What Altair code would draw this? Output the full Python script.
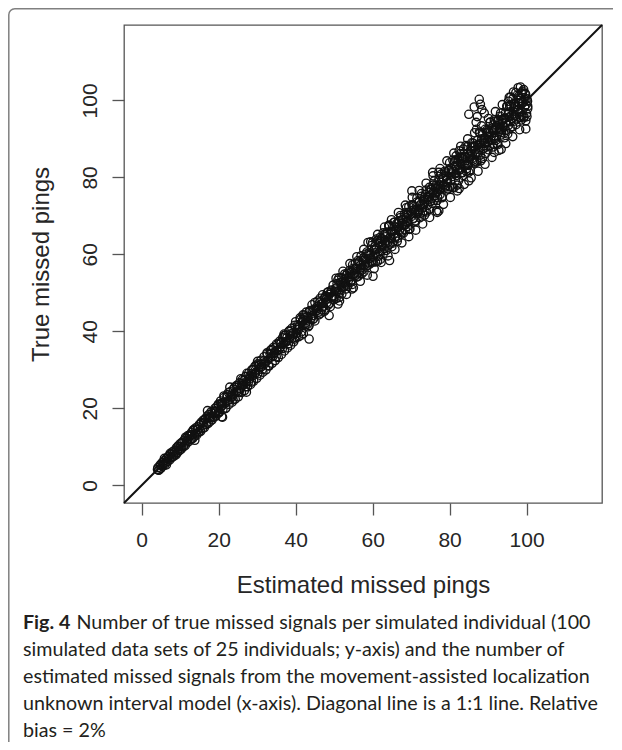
import altair as alt
import pandas as pd

# ---- data: (estimated missed pings, true missed pings) ----
seg_4_20 = [
    (4.2, 4.6), (4.5, 4.0), (4.8, 5.3), (5.0, 4.4), (5.3, 5.9), (5.5, 5.0), (5.8, 6.4), (6.0, 5.3), (6.3, 6.0), (6.5, 7.1),
    (6.8, 6.2), (7.0, 7.6), (7.3, 6.6), (7.5, 8.1), (7.8, 7.2), (8.0, 8.7), (8.3, 7.5), (8.5, 9.0), (8.8, 8.1), (9.0, 9.7),
    (9.3, 8.5), (9.5, 10.1), (9.8, 9.0), (10.0, 10.8), (10.3, 9.4), (10.5, 11.2), (10.8, 10.0), (11.0, 11.7), (11.3, 10.3), (11.5, 12.2),
    (11.8, 11.0), (12.0, 12.9), (12.3, 11.4), (12.5, 13.1), (12.8, 11.9), (13.0, 13.8), (13.3, 12.2), (13.5, 14.3), (13.8, 12.8), (14.0, 14.9),
    (14.3, 13.1), (14.5, 15.2), (14.8, 13.9), (15.0, 15.8), (15.3, 14.0), (15.5, 16.4), (15.8, 14.7), (16.0, 16.9), (16.3, 15.0), (16.5, 17.2),
    (16.8, 15.8), (17.0, 18.0), (17.3, 16.1), (17.5, 18.4), (17.8, 16.6), (18.0, 19.1), (18.3, 17.0), (18.5, 19.3), (18.8, 17.7), (19.0, 20.0),
    (19.3, 18.0), (19.5, 20.4), (19.8, 18.7), (20.0, 21.1),
    (5.6, 5.6), (7.1, 7.0), (8.6, 8.5), (9.6, 9.5), (10.2, 10.1), (11.6, 11.5), (13.1, 13.2), (14.6, 14.5), (16.1, 16.2), (17.6, 17.5),
    (19.1, 19.0), (17.1, 19.4), (20.8, 17.8), (13.8, 11.7), (4.1, 4.1),
    (4.4, 3.9), (4.9, 5.2), (5.4, 5.3), (5.9, 7.0), (6.4, 5.3), (6.9, 7.4), (7.4, 8.3), (7.9, 7.5), (8.4, 8.4), (8.9, 7.9),
    (9.4, 10.2), (9.9, 9.7), (10.4, 10.9), (10.9, 10.2), (11.4, 12.5), (11.9, 11.8), (12.4, 12.8), (12.9, 12.1), (13.4, 14.4), (13.9, 13.4),
    (14.4, 14.5), (14.9, 13.8), (15.4, 16.1), (15.9, 15.6), (16.4, 17.2), (16.9, 16.2), (17.4, 17.8), (17.9, 17.7), (18.4, 17.6), (18.9, 19.2),
    (19.4, 19.3), (19.9, 21.0),
]

seg_20_40 = [
    (20.3, 19.2), (20.5, 21.9), (20.8, 20.6), (21.1, 19.7), (21.4, 22.8), (21.6, 21.3), (21.9, 20.1), (22.2, 23.5), (22.4, 22.0), (22.7, 21.0),
    (23.0, 24.3), (23.2, 22.9), (23.5, 21.6), (23.8, 25.0), (24.0, 23.7), (24.3, 22.4), (24.6, 25.9), (24.8, 24.5), (25.1, 23.0), (25.4, 26.6),
    (25.6, 25.2), (25.9, 24.1), (26.2, 27.5), (26.4, 26.0), (26.7, 24.6), (27.0, 28.3), (27.2, 26.9), (27.5, 25.6), (27.8, 29.1), (28.0, 27.7),
    (28.3, 26.2), (28.6, 30.0), (28.8, 28.4), (29.1, 27.1), (29.4, 30.9), (29.6, 29.3), (29.9, 27.8), (30.2, 31.6), (30.4, 30.1), (30.7, 28.6),
    (31.0, 32.5), (31.2, 30.9), (31.5, 29.4), (31.8, 33.4), (32.0, 31.6), (32.3, 30.0), (32.6, 34.1), (32.8, 32.5), (33.1, 31.0), (33.4, 35.0),
    (33.6, 33.3), (33.9, 31.7), (34.2, 35.8), (34.4, 34.2), (34.7, 32.4), (35.0, 36.7), (35.2, 35.0), (35.5, 33.2), (35.8, 37.4), (36.0, 35.9),
    (36.3, 34.0), (36.6, 38.3), (36.8, 36.6), (37.1, 34.9), (37.4, 39.0), (37.6, 37.3), (37.9, 35.7), (38.2, 40.0), (38.4, 38.2), (38.7, 36.4),
    (39.0, 40.8), (39.2, 39.0), (39.5, 37.3), (39.8, 41.6),
    (21.0, 21.5), (23.6, 23.1), (26.0, 26.4), (28.5, 28.9), (31.1, 31.4), (33.7, 34.3), (36.2, 36.9), (38.6, 39.3),
    (37.0, 39.3), (22.9, 25.5), (21.0, 17.7), (30.1, 32.2), (27.2, 24.2),
    (20.15, 18.9), (20.55, 21.1), (20.95, 20.8), (21.35, 23.2), (21.75, 19.9), (22.15, 23.0), (22.55, 24.1), (22.95, 22.3), (23.35, 23.4), (23.75, 22.2),
    (24.15, 25.5), (24.55, 24.2), (24.95, 25.9), (25.35, 24.3), (25.75, 27.7), (26.15, 26.1), (26.55, 27.2), (26.95, 25.6), (27.35, 29.1), (27.75, 26.9),
    (28.15, 28.4), (28.55, 26.8), (28.95, 30.1), (29.35, 28.9), (29.75, 31.2), (30.15, 29.0), (30.55, 31.3), (30.95, 30.7),
    (31.35, 30.1), (31.75, 32.3), (32.15, 32.0), (32.55, 34.4), (32.95, 31.1), (33.35, 34.2), (33.75, 35.3), (34.15, 33.5), (34.55, 34.6), (34.95, 33.4),
    (35.35, 36.7), (35.75, 35.4), (36.15, 37.1), (36.55, 35.5), (36.95, 38.9), (37.35, 37.3), (37.75, 38.4), (38.15, 36.8), (38.55, 40.3), (38.95, 38.1),
    (39.35, 39.6), (39.75, 38.0),
]

seg_40_60 = [
    (40.00, 42.5), (40.25, 39.5), (40.50, 41.7), (40.75, 38.6), (41.00, 41.4), (41.25, 43.1), (41.50, 39.9), (41.75, 42.6), (42.00, 39.4), (42.25, 43.7),
    (42.50, 42.1), (42.75, 45.0), (43.00, 41.8), (43.25, 43.4), (43.50, 41.5), (43.75, 45.4), (44.00, 43.3), (44.25, 46.9), (44.50, 43.1), (44.75, 45.7),
    (45.00, 42.7), (45.25, 45.8), (45.50, 45.4), (45.75, 47.9), (46.00, 45.0), (46.25, 47.6), (46.50, 44.7), (46.75, 47.1), (47.00, 49.5), (47.25, 46.5),
    (47.50, 48.7), (47.75, 45.6), (48.00, 48.4), (48.25, 50.1), (48.50, 46.9), (48.75, 49.6), (49.00, 46.4), (49.25, 50.7), (49.50, 49.1), (49.75, 52.0),
    (50.00, 48.8), (50.25, 50.4), (50.50, 48.5), (50.75, 52.4), (51.00, 50.3), (51.25, 53.9), (51.50, 50.1), (51.75, 52.7), (52.00, 49.7), (52.25, 52.8),
    (52.50, 52.4), (52.75, 54.9), (53.00, 52.0), (53.25, 54.6), (53.50, 51.7), (53.75, 54.1), (54.00, 55.8), (54.25, 52.7), (54.50, 55.3), (54.75, 52.2),
    (55.00, 56.4), (55.25, 54.9), (55.50, 57.7), (55.75, 54.6), (56.00, 56.1), (56.25, 54.3), (56.50, 58.1), (56.75, 56.1), (57.00, 59.6), (57.25, 55.9),
    (57.50, 58.4), (57.75, 55.5), (58.00, 58.5), (58.25, 58.2), (58.50, 60.6), (58.75, 57.8), (59.00, 60.3), (59.25, 57.5), (59.50, 59.8), (59.75, 62.3),
    (40.6, 40.9), (41.9, 41.6), (43.1, 43.9), (44.4, 44.1), (45.6, 46.5), (46.9, 46.3), (48.1, 48.9), (49.4, 48.8), (50.6, 51.3), (51.9, 51.4),
    (53.1, 53.6), (54.4, 54.2), (55.6, 56.3), (56.9, 56.5), (58.1, 58.9), (59.4, 59.0),
    (41.9, 44.3), (43.5, 38.0), (54.6, 51.0), (48.7, 44.1), (51.0, 47.1), (58.8, 63.1),
    (40.10, 38.4), (40.45, 41.2), (40.80, 40.5), (41.15, 43.5), (41.50, 39.0), (41.85, 42.9), (42.20, 44.2), (42.55, 41.7), (42.90, 42.9), (43.25, 41.2),
    (43.60, 45.3), (43.95, 43.5), (44.30, 45.5), (44.65, 43.3), (45.00, 47.5), (45.35, 45.3), (45.70, 46.5), (46.05, 44.3), (46.40, 48.6), (46.75, 45.6),
    (47.10, 47.4), (47.45, 45.2), (47.80, 49.2), (48.15, 47.5), (48.50, 50.3), (48.85, 47.3), (49.20, 50.1), (49.55, 49.2),
    (49.90, 48.2), (50.25, 51.0), (50.60, 50.3), (50.95, 53.3), (51.30, 48.8), (51.65, 52.7), (52.00, 54.0), (52.35, 51.5), (52.70, 52.7), (53.05, 51.0),
    (53.40, 55.1), (53.75, 53.3), (54.10, 55.3), (54.45, 53.1), (54.80, 57.3), (55.15, 55.1), (55.50, 56.3), (55.85, 54.1), (56.20, 58.4), (56.55, 55.4),
    (56.90, 57.2), (57.25, 55.0), (57.60, 59.0), (57.95, 57.3), (58.30, 60.1), (58.65, 57.1), (59.00, 59.9), (59.35, 59.0), (59.70, 58.0),
    (50.5, 53.8), (52.3, 55.6), (54.1, 57.6), (55.9, 59.4), (57.7, 61.3), (59.5, 63.3),
    (51.4, 47.9), (53.2, 49.6), (55.0, 51.3), (56.8, 53.0), (58.6, 54.6),
]

seg_60_80 = [
    (60.00, 63.1), (60.25, 59.3), (60.50, 62.0), (60.75, 58.0), (61.00, 61.5), (61.25, 63.6), (61.50, 59.5), (61.75, 62.8), (62.00, 58.7), (62.25, 64.1),
    (62.50, 62.0), (62.75, 65.6), (63.00, 61.5), (63.25, 63.5), (63.50, 61.0), (63.75, 65.8), (64.00, 63.2), (64.25, 67.6), (64.50, 62.7), (64.75, 66.0),
    (65.00, 62.0), (65.25, 65.9), (65.50, 65.3), (65.75, 68.4), (66.00, 64.7), (66.25, 68.0), (66.50, 64.2), (66.75, 67.1), (67.00, 66.5), (67.25, 70.1),
    (67.50, 66.0), (67.75, 68.0), (68.00, 65.5), (68.25, 70.3), (68.50, 67.7), (68.75, 72.1), (69.00, 67.2), (69.25, 70.5), (69.50, 66.5), (69.75, 70.4),
    (70.00, 69.8), (70.25, 72.9), (70.50, 69.2), (70.75, 72.5), (71.00, 68.7), (71.25, 71.6), (71.50, 74.6), (71.75, 70.8), (72.00, 73.5), (72.25, 69.5),
    (72.50, 73.0), (72.75, 75.1), (73.00, 71.0), (73.25, 74.3), (73.50, 70.2), (73.75, 75.6), (74.00, 71.0), (74.25, 75.0), (74.50, 74.3), (74.75, 77.4),
    (75.00, 73.7), (75.25, 77.0), (75.50, 73.2), (75.75, 76.1), (76.00, 79.1), (76.25, 75.3), (76.50, 78.0), (76.75, 74.0), (77.00, 77.5), (77.25, 79.6),
    (77.50, 75.5), (77.75, 78.8), (78.00, 74.7), (78.25, 80.1), (78.50, 78.0), (78.75, 81.6), (79.00, 77.5), (79.25, 79.5), (79.50, 77.0), (79.75, 81.8),
    (60.6, 61.2), (62.0, 63.4), (63.4, 64.6), (64.9, 64.1), (66.3, 66.9), (67.7, 68.9), (69.1, 68.3), (70.6, 71.5), (72.0, 71.6), (73.4, 73.1),
    (74.9, 76.1), (76.3, 77.0), (77.7, 77.2), (79.1, 80.3), (61.8, 60.6), (65.6, 67.3), (68.9, 70.9), (72.9, 72.0), (76.9, 76.4), (79.4, 78.6),
    (70.2, 76.5), (75.6, 81.3), (77.2, 81.3), (76.8, 70.9), (77.2, 71.3), (64.4, 58.4), (60.1, 54.3), (64.2, 67.4),
    (60.1, 58.0), (60.4, 61.2), (60.7, 60.4), (61.0, 64.0), (61.3, 58.2), (61.6, 62.9), (61.9, 64.4), (62.2, 61.0), (62.5, 62.5), (62.8, 60.2),
    (63.1, 65.2), (63.4, 62.7), (63.7, 65.3), (64.0, 62.2), (64.3, 67.4), (64.6, 64.4), (64.9, 65.9), (65.2, 62.9), (65.5, 68.3), (65.8, 64.3),
    (66.1, 66.4), (66.4, 63.4), (66.7, 68.5), (67.0, 66.2), (67.3, 69.6), (67.6, 65.6), (67.9, 69.1), (68.2, 67.7),
    (68.5, 66.4), (68.8, 69.6), (69.1, 68.8), (69.4, 72.4), (69.7, 66.6), (70.0, 71.3), (70.3, 72.8), (70.6, 69.4), (70.9, 70.9), (71.2, 68.6),
    (71.5, 73.6), (71.8, 71.1), (72.1, 73.7), (72.4, 70.6), (72.7, 75.8), (73.0, 72.8), (73.3, 74.3), (73.6, 71.3), (73.9, 76.7), (74.2, 72.7),
    (74.5, 74.8), (74.8, 71.8), (75.1, 76.9), (75.4, 74.6), (75.7, 78.0), (76.0, 74.0), (76.3, 77.5), (76.6, 76.1),
    (76.9, 74.8), (77.2, 78.0), (77.5, 77.2), (77.8, 80.8), (78.1, 75.0), (78.4, 79.7), (78.7, 81.2), (79.0, 77.8), (79.3, 79.3), (79.6, 77.0),
    (79.9, 82.0),
    (61.3, 65.2), (63.1, 67.1), (64.9, 69.0), (66.7, 70.9), (68.5, 72.8), (70.3, 74.8), (72.1, 76.6), (73.9, 78.5), (75.7, 80.4), (77.5, 82.3),
    (79.3, 84.3),
    (60.4, 56.3), (62.2, 57.9), (64.0, 59.6), (65.8, 61.3), (67.6, 63.0), (69.4, 64.6), (71.2, 66.3), (73.0, 67.9), (74.8, 69.6), (76.6, 71.3),
    (78.4, 73.0),
]

seg_80_100 = [
    (80.00, 83.8), (80.25, 79.1), (80.50, 82.3), (80.75, 77.4), (81.00, 81.6), (81.25, 84.1), (81.50, 79.1), (81.75, 83.0), (82.00, 78.0), (82.25, 84.5),
    (82.50, 81.9), (82.75, 86.2), (83.00, 81.2), (83.25, 83.5), (83.50, 80.5), (83.75, 86.1), (84.00, 83.0), (84.25, 88.3), (84.50, 82.3), (84.75, 86.3),
    (85.00, 81.4), (85.25, 86.0), (85.50, 85.3), (85.75, 89.0), (86.00, 84.4), (86.25, 88.2), (86.50, 83.7), (86.75, 87.2), (87.00, 84.0), (87.25, 89.7),
    (87.50, 86.5), (87.75, 91.8), (88.00, 85.8), (88.25, 89.6), (88.50, 84.9), (88.75, 89.5), (89.00, 88.8), (89.25, 92.5), (89.50, 87.9), (89.75, 91.7),
    (90.00, 87.2), (90.25, 90.7), (90.50, 94.3), (90.75, 89.6), (91.00, 92.8), (91.25, 87.9), (91.50, 92.1), (91.75, 94.6), (92.00, 89.6), (92.25, 93.5),
    (92.50, 88.5), (92.75, 95.0), (93.00, 92.4), (93.25, 96.7), (93.50, 91.7), (93.75, 94.0), (94.00, 95.2), (94.25, 90.3), (94.50, 96.7), (94.75, 94.2),
    (95.00, 98.4), (95.25, 93.5), (95.50, 95.7), (95.75, 92.8), (96.00, 98.5), (96.25, 95.3), (96.50, 100.5), (96.75, 94.6), (97.00, 98.4), (97.25, 93.7),
    (97.50, 98.3), (97.75, 97.6), (98.00, 101.2), (98.25, 96.7), (98.50, 100.5), (98.75, 96.0), (99.00, 99.4), (99.25, 102.8), (99.50, 98.3), (99.75, 101.6),
    (100.00, 96.6), (100.25, 99.8),
    (97.8, 103.3), (98.4, 103.5), (99.0, 102.4), (97.2, 102.0), (98.9, 101.8), (99.6, 100.2), (100.3, 98.5), (100.1, 95.8), (99.8, 94.7), (99.2, 95.5),
    (98.6, 94.9), (96.6, 102.2), (95.9, 100.9), (95.3, 99.8), (99.8, 92.6),
    (80.4, 80.9), (81.6, 81.0), (82.9, 83.6), (84.1, 85.1), (85.4, 86.9), (86.6, 86.0), (87.8, 88.7), (89.1, 90.2), (90.4, 91.6), (91.6, 90.8),
    (92.9, 94.1), (94.1, 93.0), (95.4, 96.6), (96.6, 97.8), (97.9, 99.4), (83.3, 85.3), (86.0, 87.9), (88.7, 87.4), (91.3, 93.6), (94.6, 92.2),
    (84.6, 83.4), (89.9, 89.2), (93.1, 92.6),
    (81.7, 85.6), (82.5, 86.9), (85.0, 79.1), (82.5, 77.1),
    (80.1, 77.5), (80.35, 81.4), (80.6, 80.2), (80.85, 84.5), (81.1, 77.3), (81.35, 83.0), (81.6, 84.6), (81.85, 80.5), (82.1, 82.1), (82.35, 79.2),
    (82.6, 85.2), (82.85, 82.1), (83.1, 84.9), (83.35, 81.2), (83.6, 87.4), (83.85, 83.7), (84.1, 85.3), (84.35, 81.6), (84.6, 88.0), (84.85, 83.1),
    (85.1, 85.5), (85.35, 81.8), (85.6, 87.8), (85.85, 84.9), (86.1, 88.9), (86.35, 84.0), (86.6, 88.0), (86.85, 86.3),
    (87.1, 84.5), (87.35, 88.4), (87.6, 87.2), (87.85, 91.5), (88.1, 84.3), (88.35, 90.0), (88.6, 91.6), (88.85, 87.5), (89.1, 89.1), (89.35, 86.2),
    (89.6, 92.2), (89.85, 89.1), (90.1, 91.9), (90.35, 88.2), (90.6, 94.4), (90.85, 90.7), (91.1, 92.3), (91.35, 88.6), (91.6, 95.0), (91.85, 90.1),
    (92.1, 92.5), (92.35, 88.8), (92.6, 94.8), (92.85, 91.9), (93.1, 95.9), (93.35, 91.0), (93.6, 95.0), (93.85, 93.3),
    (94.1, 91.5), (94.35, 95.4), (94.6, 94.2), (94.85, 98.5), (95.1, 91.3), (95.35, 97.0), (95.6, 98.6), (95.85, 94.5), (96.1, 96.1), (96.35, 93.2),
    (96.6, 99.2), (96.85, 96.1), (97.1, 98.9), (97.35, 95.2), (97.6, 101.4), (97.85, 97.7), (98.1, 99.3), (98.35, 95.6), (98.6, 102.0), (98.85, 97.1),
    (99.1, 99.5), (99.35, 95.8), (99.6, 101.8), (99.85, 98.9), (100.1, 100.4), (100.3, 97.9),
    (81.1, 86.3), (82.9, 88.1), (84.7, 90.0), (86.5, 91.6), (88.3, 93.4), (90.1, 95.3), (91.9, 97.1), (93.7, 98.9), (95.5, 100.8),
    (80.2, 74.8), (82.0, 76.5), (83.8, 78.2), (85.6, 79.9), (87.4, 81.6), (89.2, 83.4), (91.0, 85.2), (92.8, 87.0), (94.6, 88.8),
    (96.4, 90.6), (98.2, 92.4),
]

outliers_high = [
    (85.0, 96.4), (86.4, 98.3), (87.2, 95.8), (87.7, 100.3), (86.9, 94.3), (88.4, 97.6), (88.0, 99.0), (89.0, 96.7),
    (87.0, 92.5), (93.4, 87.3), (91.6, 86.5),
]

one_to_one = [-4.6, 119.6]          # 1:1 line across the plotting region
axis_ticks = [0, 20, 40, 60, 80, 100]
axis_domain = [-4.6, 119.6]

x_title = "Estimated missed pings"
y_title = "True missed pings"
cap_bold = "Fig. 4"
cap_lines = [
    "Number of true missed signals per simulated individual (100",
    "simulated data sets of 25 individuals; y-axis) and the number of",
    "estimated missed signals from the movement-assisted localization",
    "unknown interval model (x-axis). Diagonal line is a 1:1 line. Relative",
    "bias = 2%",
]

# ---- build tables ----
rows = []
for seg in (seg_4_20, seg_20_40, seg_40_60, seg_60_80, seg_80_100, outliers_high):
    for e, t in seg:
        rows.append({"est": e, "true": t})
pts = pd.DataFrame(rows)
diag = pd.DataFrame({"est": one_to_one, "true": one_to_one})

W = 478
H = 478
AX_FONT = "Liberation Sans"
CAP_FONT = "Lato"
CAP_SIZE = 19.7
TXT = "#262626"
GRAY = "#555555"

scale = alt.Scale(domain=axis_domain, nice=False, zero=False)

x_axis = alt.Axis(
    values=axis_ticks, domain=False, grid=False, ticks=True, tickSize=12,
    tickColor=GRAY, tickWidth=1.3, labelFont=AX_FONT, labelFontSize=21,
    labelColor=TXT, labelBaseline="alphabetic", labelAlign="center",
    labelPadding=31, labelFlush=False, labelOverlap=False,
    title=x_title, titleFont=AX_FONT, titleFontSize=24, titleFontWeight="normal",
    titleColor=TXT, titleBaseline="alphabetic", titleAlign="center",
    titleX=W / 2, titleY=89.7,
)
y_axis = alt.Axis(
    values=axis_ticks, domain=False, grid=False, ticks=True, tickSize=12,
    tickColor=GRAY, tickWidth=1.3, labelFont=AX_FONT, labelFontSize=21,
    labelColor=TXT, labelAngle=270, labelBaseline="alphabetic", labelAlign="center",
    labelPadding=15.3, labelFlush=False, labelOverlap=False,
    title=y_title, titleFont=AX_FONT, titleFontSize=24, titleFontWeight="normal",
    titleColor=TXT, titleAngle=270, titleBaseline="alphabetic", titleAlign="center",
    titleX=-76, titleY=H / 2,
)

X = alt.X("est:Q", scale=scale, axis=x_axis)
Y = alt.Y("true:Q", scale=scale, axis=y_axis)

points = alt.Chart(pts).mark_point(
    shape="circle", filled=False, size=68, color="#111111", strokeWidth=1.35, opacity=1
).encode(x=X, y=Y)

line = alt.Chart(diag).mark_line(color="#111111", strokeWidth=2).encode(x=X, y=Y)

anchor = alt.Data(values=[{"k": 0}])

frame = alt.Chart(anchor).mark_rect(
    fillOpacity=0, stroke="#808080", strokeWidth=1.5, cornerRadius=6
).encode(x=alt.value(-115.2), x2=alt.value(560), y=alt.value(-16.2), y2=alt.value(760))


def cap_text(txt, x, y, bold=False):
    return alt.Chart(anchor).mark_text(
        text=txt, align="left", baseline="alphabetic", font=CAP_FONT,
        fontSize=CAP_SIZE, fontWeight="bold" if bold else "normal", color="#231f20"
    ).encode(x=alt.value(x), y=alt.value(y))


cap_y = [604, 631, 658, 685, 712]
texts = [cap_text(cap_bold, -101, cap_y[0], bold=True),
         cap_text(cap_lines[0], -47.5, cap_y[0])]
for i in range(1, 5):
    texts.append(cap_text(cap_lines[i], -101, cap_y[i]))

chart = alt.layer(frame, points, line, *texts).properties(
    width=W, height=H,
    autosize=alt.AutoSizeParams(type="none"),
    padding={"left": 116, "top": 17, "right": 11, "bottom": 239},
    background="white",
).configure_view(stroke=GRAY, strokeWidth=1.3)

chart.save("out.html", embed_options={"renderer": "svg", "actions": False})
